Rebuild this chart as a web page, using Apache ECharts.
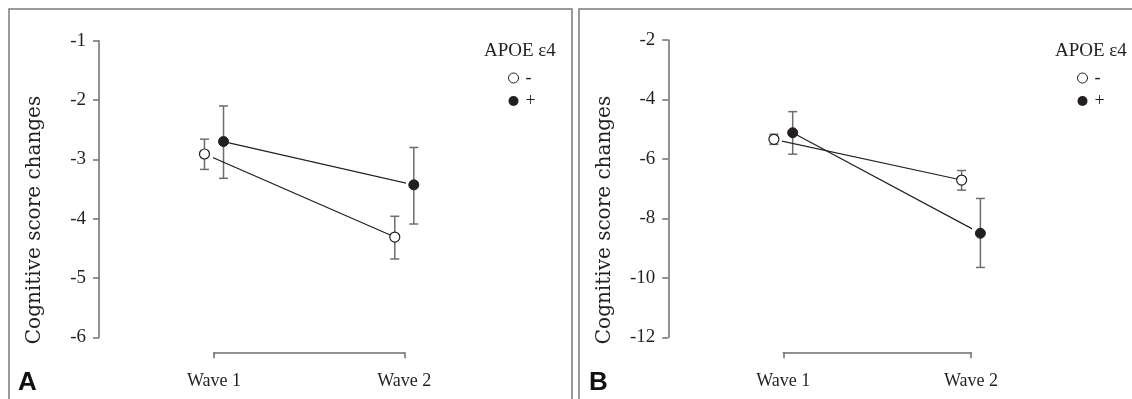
<!DOCTYPE html>
<html>
<head>
<meta charset="utf-8">
<script src="https://cdn.jsdelivr.net/npm/echarts@6/dist/echarts.min.js"></script>
<style>
  html, body { margin: 0; padding: 0; background: #fff; }
  #chart { width: 1132px; height: 399px; }
</style>
</head>
<body>
<div id="chart"></div>
<script>
// Wave categories (x positions 1 and 2)
const waveLabels = ['Wave 1', 'Wave 2'];

// Panel A: APOE e4 negative / positive, mean and error bar ends
const negMeanA = [-2.91, -4.31];
const negLoA = [-3.17, -4.68];
const negHiA = [-2.66, -3.96];
const posMeanA = [-2.70, -3.43];
const posLoA = [-3.32, -4.09];
const posHiA = [-2.10, -2.80];

// Panel B
const negMeanB = [-5.34, -6.71];
const negLoB = [-5.51, -7.05];
const negHiB = [-5.17, -6.39];
const posMeanB = [-5.12, -8.50];
const posLoB = [-5.84, -9.65];
const posHiB = [-4.41, -7.33];

const DODGE = 0.05;
const SERIF = '"Liberation Serif", "Times New Roman", serif';
const INK = '#231f20';
const AXIS = '#6d6d6d';

function pts(means, shift) {
  return means.map((v, i) => [i + 1 + shift, v]);
}
function bars(lo, hi, shift) {
  return lo.map((l, i) => [i + 1 + shift, l, hi[i]]);
}

function errorBars(idx, lo, hi, shift) {
  return {
    type: 'custom',
    xAxisIndex: idx,
    yAxisIndex: idx,
    clip: false,
    z: 1,
    silent: true,
    data: bars(lo, hi, shift),
    renderItem: (params, api) => {
      const x = api.value(0);
      const top = api.coord([x, api.value(2)]);
      const bot = api.coord([x, api.value(1)]);
      const cap = 4.5;
      const style = { stroke: AXIS, lineWidth: 1.5 };
      return {
        type: 'group',
        children: [
          { type: 'line', shape: { x1: top[0], y1: top[1], x2: bot[0], y2: bot[1] }, style },
          { type: 'line', shape: { x1: top[0] - cap, y1: top[1], x2: top[0] + cap, y2: top[1] }, style },
          { type: 'line', shape: { x1: bot[0] - cap, y1: bot[1], x2: bot[0] + cap, y2: bot[1] }, style },
        ],
      };
    },
  };
}

function lineSeries(idx, name, means, shift, filled) {
  return {
    name,
    type: 'line',
    xAxisIndex: idx,
    yAxisIndex: idx,
    clip: false,
    z: 3,
    data: pts(means, shift),
    symbol: 'circle',
    symbolSize: 10,
    showAllSymbol: true,
    lineStyle: { color: INK, width: 1.2 },
    itemStyle: filled
      ? { color: INK, borderColor: INK, borderWidth: 1 }
      : { color: '#fff', borderColor: INK, borderWidth: 1.2 },
    emphasis: { disabled: true },
  };
}

function xAxisCfg(idx) {
  return {
    type: 'value',
    gridIndex: idx,
    min: 1,
    max: 2,
    interval: 1,
    offset: 15,
    axisLine: { show: true, lineStyle: { color: AXIS, width: 1.5 } },
    axisTick: { show: true, length: 6, lineStyle: { color: AXIS, width: 1.5 } },
    axisLabel: {
      margin: 20,
      showMinLabel: true,
      showMaxLabel: true,
      fontFamily: SERIF,
      fontSize: 18,
      color: INK,
      formatter: (v) => waveLabels[Math.round(v) - 1] || '',
    },
    splitLine: { show: false },
  };
}

function yAxisCfg(idx, min, max, interval, offset) {
  return {
    type: 'value',
    gridIndex: idx,
    min,
    max,
    interval,
    offset,
    axisLine: { show: true, lineStyle: { color: AXIS, width: 1.5 } },
    axisTick: { show: true, length: 6, lineStyle: { color: AXIS, width: 1.5 } },
    axisLabel: { margin: 13, fontFamily: SERIF, fontSize: 19, color: INK },
    splitLine: { show: false },
  };
}

function legendCfg(left) {
  return {
    orient: 'vertical',
    left,
    top: 69,
    padding: 0,
    itemWidth: 10,
    itemHeight: 10,
    itemGap: 5,
    selectedMode: false,
    textStyle: { fontFamily: SERIF, fontSize: 18, color: INK, padding: [0, 0, 0, 2] },
    data: [
      { name: '-', icon: 'circle', itemStyle: { color: '#fff', borderColor: INK, borderWidth: 1 } },
      { name: '+', icon: 'circle', itemStyle: { color: INK, borderColor: INK, borderWidth: 0 } },
    ],
  };
}

const chart = echarts.init(document.getElementById('chart'), null, { renderer: 'canvas' });

chart.setOption({
  animation: false,
  backgroundColor: '#fff',
  title: [
    { text: 'APOE ε4', left: 484, top: 42, padding: 0, textStyle: { fontFamily: SERIF, fontSize: 19, fontWeight: 'normal', color: INK } },
    { text: 'APOE ε4', left: 1055, top: 42, padding: 0, textStyle: { fontFamily: SERIF, fontSize: 19, fontWeight: 'normal', color: INK } },
  ],
  legend: [legendCfg(508), legendCfg(1077)],
  grid: [
    { left: 214, top: 40.7, width: 190.3, height: 296.6 },
    { left: 783.3, top: 40, width: 187.7, height: 297.3 },
  ],
  xAxis: [xAxisCfg(0), xAxisCfg(1)],
  yAxis: [yAxisCfg(0, -6, -1, 1, 115), yAxisCfg(1, -12, -2, 2, 115)],
  series: [
    errorBars(0, negLoA, negHiA, -DODGE),
    errorBars(0, posLoA, posHiA, DODGE),
    lineSeries(0, '-', negMeanA, -DODGE, false),
    lineSeries(0, '+', posMeanA, DODGE, true),
    errorBars(1, negLoB, negHiB, -DODGE),
    errorBars(1, posLoB, posHiB, DODGE),
    lineSeries(1, '-', negMeanB, -DODGE, false),
    lineSeries(1, '+', posMeanB, DODGE, true),
  ],
  graphic: [
    { type: 'rect', shape: { x: 9, y: 9, width: 563, height: 420 }, style: { fill: 'none', stroke: '#7a7a7a', lineWidth: 1.5 }, silent: true },
    { type: 'rect', shape: { x: 579, y: 9, width: 600, height: 420 }, style: { fill: 'none', stroke: '#7a7a7a', lineWidth: 1.5 }, silent: true },
    { type: 'text', x: 35, y: 220, rotation: Math.PI / 2,
      style: { text: 'Cognitive score changes', font: '20px "DejaVu Serif", serif', fill: INK, textAlign: 'center', textVerticalAlign: 'middle' } },
    { type: 'text', x: 605, y: 220, rotation: Math.PI / 2,
      style: { text: 'Cognitive score changes', font: '20px "DejaVu Serif", serif', fill: INK, textAlign: 'center', textVerticalAlign: 'middle' } },
    { type: 'text', x: 18, y: 396,
      style: { text: 'A', font: 'bold 26px "Liberation Sans", Arial, sans-serif', fill: '#111', textAlign: 'left', textVerticalAlign: 'bottom' } },
    { type: 'text', x: 589, y: 396,
      style: { text: 'B', font: 'bold 26px "Liberation Sans", Arial, sans-serif', fill: '#111', textAlign: 'left', textVerticalAlign: 'bottom' } },
  ],
});
</script>
</body>
</html>
